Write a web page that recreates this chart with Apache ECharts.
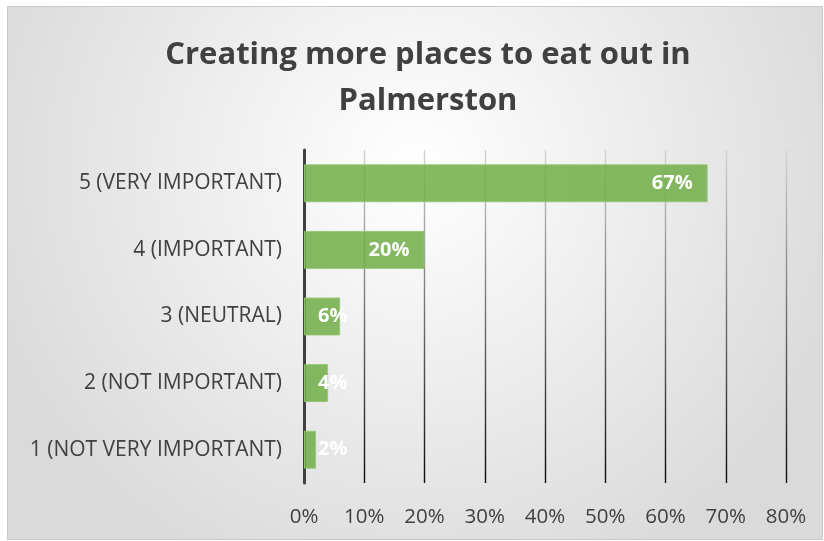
<!DOCTYPE html>
<html>
<head>
<meta charset="utf-8">
<style>
  html, body { margin: 0; padding: 0; background: #ffffff; }
  #chart { width: 824px; height: 541px; }
</style>
<script src="https://cdn.jsdelivr.net/npm/echarts@6/dist/echarts.min.js"></script>
</head>
<body>
<div id="chart"></div>
<script>
// Survey responses, bottom to top as drawn on the category axis
const categories = [
  '1 (NOT VERY IMPORTANT)',
  '2 (NOT IMPORTANT)',
  '3 (NEUTRAL)',
  '4 (IMPORTANT)',
  '5 (VERY IMPORTANT)'
];
const shares = [2, 4, 6, 20, 67];   // percent of respondents
const titleText = 'Creating more places to eat out in\nPalmerston';

const FONT = 'Open Sans';
const TEXT = '#404040';

const chart = echarts.init(document.getElementById('chart'), null, { renderer: 'canvas' });

// Short bars can't hold their label, so it starts near the axis and runs past the bar end
const barData = shares.map(v => ({
  value: v,
  label: v < 10
    ? { position: 'insideLeft', distance: 14 }
    : { position: 'insideRight', distance: 15 }
}));

chart.setOption({
  backgroundColor: '#ffffff',
  graphic: [{
    type: 'rect',
    z: -10,
    silent: true,
    shape: { x: 7.5, y: 6.5, width: 815, height: 533 },
    style: {
      fill: {
        type: 'radial', x: 0.5, y: 0.3, r: 0.85,
        colorStops: [
          { offset: 0, color: '#ffffff' },
          { offset: 1, color: '#dadada' }
        ]
      },
      stroke: '#c9c9c9',
      lineWidth: 1
    }
  }],
  title: {
    text: titleText,
    left: 423,
    textAlign: 'center',
    top: 27,
    textStyle: {
      fontFamily: FONT,
      fontWeight: 'bold',
      fontSize: 31,
      color: TEXT,
      lineHeight: 46
    }
  },
  grid: { left: 304, right: 38, top: 150, bottom: 58, containLabel: false },
  xAxis: {
    type: 'value',
    min: 0,
    max: 80,
    interval: 10,
    axisLine: { show: false },
    axisTick: { show: false },
    axisLabel: {
      formatter: '{value}%',
      fontFamily: FONT,
      fontSize: 20.5,
      color: TEXT,
      margin: 24
    },
    splitLine: {
      show: true,
      lineStyle: {
        width: 1.4,
        color: {
          type: 'linear', x: 0, y: 150, x2: 0, y2: 483, global: true,
          colorStops: [
            { offset: 0, color: '#d4d4d4' },
            { offset: 1, color: '#0a0a0a' }
          ]
        }
      }
    }
  },
  yAxis: {
    type: 'category',
    data: categories,
    axisLine: { show: true, lineStyle: { color: '#404040', width: 3 } },
    axisTick: { show: false },
    axisLabel: {
      fontFamily: FONT,
      fontSize: 21,
      color: TEXT,
      margin: 22
    }
  },
  series: [{
    type: 'bar',
    data: barData,
    barCategoryGap: '43%',
    itemStyle: {
      color: 'rgba(112,173,71,0.85)',
      borderColor: 'rgba(150,200,115,0.9)',
      borderWidth: 1
    },
    label: {
      show: true,
      formatter: '{c}%',
      fontFamily: FONT,
      fontWeight: 'bold',
      fontSize: 20,
      color: '#ffffff'
    }
  }]
});
</script>
</body>
</html>
